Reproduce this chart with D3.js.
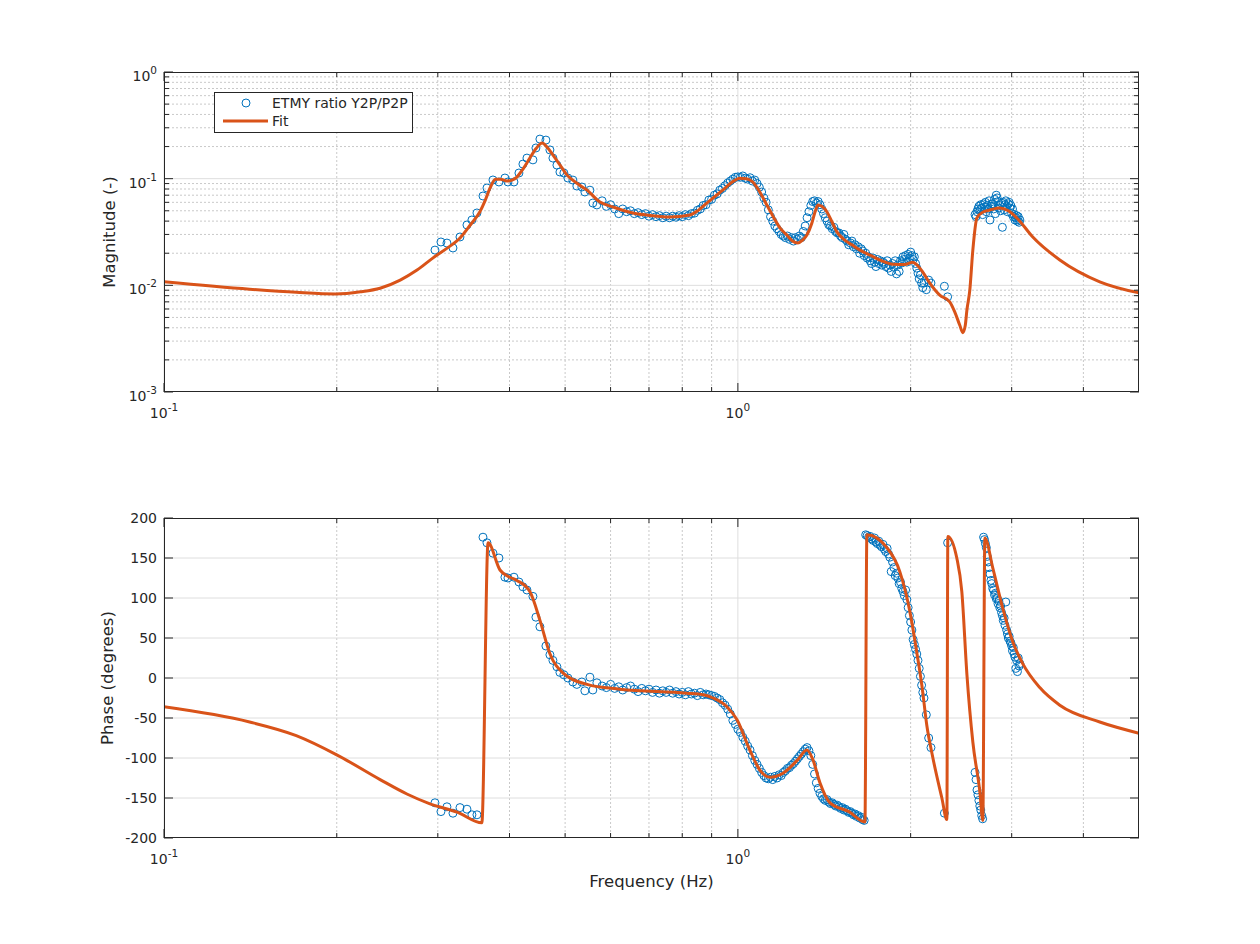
<!DOCTYPE html>
<html>
<head>
<meta charset="utf-8">
<script src="https://cdn.jsdelivr.net/npm/d3@7"></script>
<style>
body { margin: 0; background: #fff; }
text { font-family: "DejaVu Sans", sans-serif; fill: #262626; }
</style>
</head>
<body>
<script>
var measFreq = [
  0.2966,0.3038,0.3112,0.3188,0.3279,0.3372,0.3440,0.3510,0.3596,0.3654,
  0.3743,0.3834,0.3927,0.3975,0.4072,0.4154,0.4221,0.4290,0.4394,0.4447,
  0.4519,0.4629,0.4704,0.4761,0.4838,0.4897,0.4975,0.5056,0.5158,0.5241,
  0.5347,0.5412,0.5523,0.5588,0.5679,
  0.58,0.59,0.60,0.61,0.62,0.63,0.64,0.65,0.66,0.67,
  0.68,0.69,0.70,0.71,0.72,0.73,0.74,0.75,0.76,0.77,
  0.78,0.79,0.80,0.81,0.82,0.83,0.84,0.85,0.86,0.87,
  0.88,0.89,0.90,0.91,0.92,0.93,0.94,0.95,0.96,0.97,
  0.98,0.99,1.00,
  1.01,1.02,1.03,1.04,1.05,1.06,1.07,1.08,1.09,1.10,
  1.11,1.12,1.13,1.14,1.15,1.16,1.17,1.18,1.19,1.20,
  1.21,1.22,1.23,1.24,1.25,1.26,1.27,1.28,1.29,1.30,
  1.31,1.32,1.33,1.34,1.35,1.36,1.37,1.38,1.39,1.40,
  1.41,1.42,1.43,1.44,1.45,1.46,1.47,1.48,1.49,1.50,
  1.51,1.52,1.53,1.54,1.55,1.56,1.57,1.58,1.59,1.60,
  1.61,1.62,1.63,1.64,1.65,1.66,1.67,1.68,1.69,1.70,
  1.71,1.72,1.73,1.74,1.75,1.76,1.77,1.78,1.79,1.80,
  1.81,1.82,1.83,1.84,1.85,1.86,1.87,1.88,1.89,1.90,
  1.91,1.92,1.93,1.94,1.95,1.96,1.97,1.98,1.99,2.00,
  2.01,2.02,2.03,2.04,2.05,2.06,2.07,2.08,2.09,2.10,
  2.11,2.13,2.15,2.17,2.29,2.32,
  2.59,2.60,2.61,2.62,2.63,2.64,2.65,2.66,2.67,2.68,
  2.69,2.70,2.71,2.72,2.73,2.74,2.75,2.76,2.77,2.78,
  2.79,2.80,2.81,2.82,2.83,2.84,2.85,2.86,2.87,2.88,
  2.89,2.90,2.91,2.92,2.93,2.94,2.95,2.96,2.97,2.98,
  2.99,3.00,3.01,3.02,3.03,3.04,3.05,3.06,3.07,3.08,
  3.09,3.10
];
var measMag = [
  0.0214,0.0255,0.0249,0.0224,0.0284,0.0368,0.0410,0.0477,0.0688,0.0818,
  0.0972,0.0931,0.1014,0.0931,0.0931,0.113,0.137,0.156,0.150,0.194,
  0.235,0.230,0.186,0.156,0.134,0.1155,0.113,0.1014,0.097,0.0853,
  0.0835,0.075,0.078,0.0591,0.0567,
  0.062,0.055,0.057,0.052,0.047,0.052,0.049,0.050,0.047,0.048,
  0.046,0.047,0.0445,0.046,0.044,0.045,0.043,0.0445,0.043,0.0445,
  0.0435,0.045,0.044,0.046,0.045,0.047,0.0475,0.0505,0.052,0.056,
  0.057,0.063,0.064,0.070,0.072,0.078,0.081,0.086,0.091,0.095,
  0.099,0.103,0.104,
  0.103,0.106,0.101,0.099,0.102,0.095,0.097,0.090,0.083,0.075,
  0.066,0.060,0.051,0.044,0.040,0.036,0.034,0.032,0.030,0.029,
  0.028,0.029,0.027,0.028,0.026,0.028,0.027,0.029,0.028,0.032,
  0.036,0.043,0.049,0.056,0.061,0.062,0.059,0.061,0.057,0.052,
  0.047,0.043,0.040,0.037,0.036,0.034,0.035,0.032,0.031,0.031,
  0.029,0.028,0.030,0.027,0.026,0.024,0.025,0.026,0.023,0.024,
  0.022,0.023,0.020,0.022,0.021,0.019,0.020,0.018,0.0185,0.017,
  0.016,0.018,0.0165,0.015,0.0175,0.016,0.017,0.0155,0.0165,0.016,
  0.015,0.017,0.0145,0.0155,0.0135,0.016,0.0148,0.017,0.0128,0.0155,
  0.0135,0.017,0.0162,0.0185,0.0175,0.019,0.0165,0.0195,0.018,0.0205,
  0.019,0.0175,0.0185,0.016,0.0145,0.013,0.0115,0.0125,0.0105,0.0095,
  0.0105,0.0091,0.0112,0.0105,0.0098,0.0078,
  0.046,0.044,0.049,0.052,0.055,0.050,0.057,0.053,0.046,0.058,
  0.054,0.060,0.049,0.056,0.052,0.062,0.041,0.055,0.058,0.058,
  0.052,0.064,0.047,0.070,0.066,0.061,0.053,0.056,0.050,0.059,
  0.035,0.060,0.051,0.057,0.062,0.055,0.049,0.058,0.060,0.053,
  0.056,0.047,0.052,0.044,0.046,0.041,0.043,0.045,0.040,0.044,
  0.039,0.041
];
var measPhase = [
  -156,-167,-161,-169,-162,-164,-171,-171,176,169,
  156,150,126,125,126,120,114,110,102,76,
  64,40,29,22,14,7,4,0,-5,-8,
  -5,-16,1,-15,-6,
  -10,-12,-8,-13,-11,-15,-12,-10,-14,-17,
  -13,-16,-14,-18,-15,-19,-16,-18,-15,-19,
  -17,-20,-18,-21,-17,-20,-19,-22,-18,-21,
  -20,-21,-22,-23,-25,-27,-31,-34,-39,-45,
  -53,-58,-64,
  -68,-74,-79,-85,-90,-97,-103,-108,-113,-118,
  -122,-125,-126,-124,-127,-123,-125,-121,-122,-118,
  -116,-113,-112,-109,-107,-104,-101,-98,-95,-92,
  -89,-87,-91,-97,-108,-120,-131,-138,-144,-148,
  -151,-153,-152,-155,-157,-156,-158,-160,-159,-161,
  -163,-162,-165,-164,-166,-168,-167,-169,-171,-170,
  -173,-172,-175,-174,-177,-178,179,178,176,177,
  174,172,175,170,168,171,166,164,167,161,
  158,162,155,151,133,145,138,128,131,125,
  118,120,112,108,103,110,98,88,78,70,
  60,48,42,36,30,22,12,2,-9,-18,
  -25,-46,-75,-87,-169,169,
  -118,-127,-140,-146,-153,-160,-165,-172,-176,176,
  173,168,163,152,145,138,130,122,118,112,
  110,104,106,99,100,93,96,88,90,82,
  78,72,75,66,95,60,55,50,52,46,
  44,40,34,38,30,26,12,22,8,25,
  15,18
];

// fitted model
var fitMagFreq = [0.100,0.141,0.170,0.199,0.220,0.238,0.258,0.276,0.294,0.311,
  0.328,0.342,0.355,0.363,0.370,0.378,0.386,0.396,0.404,0.412,
  0.423,0.434,0.445,0.456,0.466,0.476,0.490,0.504,0.525,0.546,
  0.575,0.606,0.656,0.694,0.761,0.825,0.855,0.883,0.912,0.942,
  0.975,1.008,1.035,1.062,1.092,1.123,1.150,1.184,1.217,1.245,
  1.272,1.296,1.319,1.345,1.365,1.379,1.400,1.430,1.460,1.488,
  1.530,1.580,1.632,1.700,1.780,1.862,1.950,2.018,2.060,2.100,
  2.160,2.248,2.340,2.388,2.437,2.466,2.490,2.507,2.536,2.567,
  2.609,2.680,2.748,2.860,2.960,3.063,3.265,3.639,4.272,5.000];
var fitMag = [0.0108,0.0092,0.0086,0.0083,0.0087,0.0094,0.0112,0.0139,0.0180,0.0222,
  0.0278,0.0370,0.0487,0.063,0.0818,0.099,0.099,0.0951,0.097,0.1035,
  0.125,0.156,0.192,0.216,0.195,0.167,0.134,0.108,0.090,0.078,
  0.0604,0.0542,0.0477,0.0456,0.0437,0.0456,0.051,0.0591,0.068,0.0784,
  0.092,0.101,0.100,0.0931,0.075,0.0567,0.045,0.0345,0.0296,0.026,
  0.0249,0.0265,0.0296,0.038,0.050,0.0567,0.055,0.0487,0.039,0.0317,
  0.027,0.024,0.0214,0.0192,0.0170,0.0158,0.0157,0.0165,0.0152,0.0133,
  0.0105,0.0081,0.0070,0.0056,0.0042,0.0036,0.0042,0.0059,0.0090,0.0214,
  0.0428,0.049,0.0508,0.053,0.050,0.0428,0.0284,0.0173,0.0108,0.0085];
var fitPhaseFreq = [0.100,0.141,0.170,0.200,0.238,0.265,0.290,0.325,0.358,0.367,
  0.385,0.398,0.412,0.434,0.452,0.470,0.496,0.546,0.623,0.815,
  0.870,0.905,0.957,0.996,1.049,1.092,1.137,1.198,1.272,1.319,
  1.351,1.390,1.447,1.561,1.665,1.678,1.818,1.915,1.994,2.050,
  2.092,2.134,2.187,2.267,2.313,2.322,2.407,2.456,2.507,2.567,
  2.640,2.672,2.694,2.782,2.895,3.014,3.136,3.358,3.639,4.272,5.000];
var fitPhase = [-36,-55,-72,-96,-127,-145,-157,-168,-181,169,
  135,127,122,108,72,31,6,-8,-14,-19,
  -21,-25,-36,-52,-90,-115,-124,-119,-102,-90,
  -102,-131,-156,-167,-180,179,163,133,83,32,
  -9,-59,-100,-150,-177,177,150,108,4,-80,
  -142,-178,175,137,87,45,18,-12,-34,-55,-69];

// axes
var xDomain = [0.1, 5];
var xMajor = [0.1, 1];
var xMinor = [0.2,0.3,0.4,0.5,0.6,0.7,0.8,0.9,2,3,4];
var xExp = ["-1", "0"];
var magDomain = [0.001, 1];
var magMajor = [0.001, 0.01, 0.1, 1];
var magExp = ["-3", "-2", "-1", "0"];
var magMinor = [0.002,0.003,0.004,0.005,0.006,0.007,0.008,0.009,
  0.02,0.03,0.04,0.05,0.06,0.07,0.08,0.09,
  0.2,0.3,0.4,0.5,0.6,0.7,0.8,0.9];
var phaseDomain = [-200, 200];
var phaseTicks = [-200,-150,-100,-50,0,50,100,150,200];

var W = 1260, H = 944;
var left = 164, right = 1139;
var blue = "#0072BD", orange = "#D95319", ink = "#262626";

var svg = d3.select("body").append("svg")
  .attr("width", W)
  .attr("height", H);

var x = d3.scaleLog().domain(xDomain).range([left, right]);
var yMag = d3.scaleLog().domain(magDomain).range([392, 72]);
var yPh = d3.scaleLinear().domain(phaseDomain).range([838, 518]);

function expLabel(t, e) {
  t.append("tspan").text("10");
  t.append("tspan").attr("dy", -7).attr("font-size", 10.5).text(e);
}

function drawPanel(id, y, yMajor, yMinor, top, bottom) {
  var g = svg.append("g");

  // minor grid (dotted)
  g.selectAll(".xm").data(xMinor).enter().append("line")
    .attr("x1", d => x(d)).attr("x2", d => x(d))
    .attr("y1", top).attr("y2", bottom)
    .attr("stroke", "#c9c9c9").attr("stroke-width", 1)
    .attr("stroke-dasharray", "2,2");
  g.selectAll(".ym").data(yMinor).enter().append("line")
    .attr("x1", left).attr("x2", right)
    .attr("y1", d => y(d)).attr("y2", d => y(d))
    .attr("stroke", "#c9c9c9").attr("stroke-width", 1)
    .attr("stroke-dasharray", "2,2");
  // major grid
  g.selectAll(".xM").data(xMajor).enter().append("line")
    .attr("x1", d => x(d)).attr("x2", d => x(d))
    .attr("y1", top).attr("y2", bottom)
    .attr("stroke", "#dedede").attr("stroke-width", 1);
  g.selectAll(".yM").data(yMajor).enter().append("line")
    .attr("x1", left).attr("x2", right)
    .attr("y1", d => y(d)).attr("y2", d => y(d))
    .attr("stroke", "#dedede").attr("stroke-width", 1);

  svg.append("clipPath").attr("id", id)
    .append("rect").attr("x", left).attr("y", top)
    .attr("width", right - left).attr("height", bottom - top);
  return g;
}

function drawFrame(y, yMajor, yMinor, top, bottom) {
  var g = svg.append("g").attr("stroke", ink).attr("stroke-width", 1);
  var majL = 9, minL = 5;
  xMajor.forEach(function (d) {
    g.append("line").attr("x1", x(d)).attr("x2", x(d)).attr("y1", bottom).attr("y2", bottom - majL);
    g.append("line").attr("x1", x(d)).attr("x2", x(d)).attr("y1", top).attr("y2", top + majL);
  });
  xMinor.forEach(function (d) {
    g.append("line").attr("x1", x(d)).attr("x2", x(d)).attr("y1", bottom).attr("y2", bottom - minL);
    g.append("line").attr("x1", x(d)).attr("x2", x(d)).attr("y1", top).attr("y2", top + minL);
  });
  yMajor.forEach(function (d) {
    g.append("line").attr("x1", left).attr("x2", left + majL).attr("y1", y(d)).attr("y2", y(d));
    g.append("line").attr("x1", right).attr("x2", right - majL).attr("y1", y(d)).attr("y2", y(d));
  });
  yMinor.forEach(function (d) {
    g.append("line").attr("x1", left).attr("x2", left + minL).attr("y1", y(d)).attr("y2", y(d));
    g.append("line").attr("x1", right).attr("x2", right - minL).attr("y1", y(d)).attr("y2", y(d));
  });
  g.append("rect").attr("x", left + 0.5).attr("y", top + 0.5)
    .attr("width", right - left - 1).attr("height", bottom - top - 1)
    .attr("fill", "none");

  // x tick labels
  xMajor.forEach(function (d, i) {
    var t = svg.append("text").attr("x", x(d)).attr("y", bottom + 26)
      .attr("text-anchor", "middle").attr("font-size", 14);
    expLabel(t, xExp[i]);
  });
}

// ---------- magnitude ----------
drawPanel("clipMag", yMag, magMajor.slice(1, 3), magMinor, 72, 392);

var gMag = svg.append("g");
gMag.selectAll("circle").data(d3.zip(measFreq, measMag)).enter().append("circle")
  .attr("cx", d => x(d[0])).attr("cy", d => yMag(d[1])).attr("r", 4)
  .attr("fill", "none").attr("stroke", blue).attr("stroke-width", 1);

var magLine = d3.line().x(d => x(d[0])).y(d => yMag(d[1])).curve(d3.curveMonotoneX);
svg.append("path").datum(d3.zip(fitMagFreq, fitMag))
  .attr("clip-path", "url(#clipMag)")
  .attr("d", magLine).attr("fill", "none")
  .attr("stroke", orange).attr("stroke-width", 3)
  .attr("stroke-linejoin", "round");

drawFrame(yMag, magMajor, magMinor, 72, 392);

magMajor.forEach(function (d, i) {
  var t = svg.append("text").attr("x", 157).attr("y", yMag(d) + 9)
    .attr("text-anchor", "end").attr("font-size", 14);
  expLabel(t, magExp[i]);
});

svg.append("text").attr("transform", "translate(115,232) rotate(-90)")
  .attr("text-anchor", "middle").attr("font-size", 16.5).text("Magnitude (-)");

// legend
var lg = svg.append("g");
lg.append("rect").attr("x", 214.5).attr("y", 92.5).attr("width", 198).attr("height", 40)
  .attr("fill", "#fff").attr("stroke", ink).attr("stroke-width", 1);
lg.append("circle").attr("cx", 246).attr("cy", 103).attr("r", 4)
  .attr("fill", "none").attr("stroke", blue).attr("stroke-width", 1);
lg.append("text").attr("x", 272).attr("y", 108).attr("font-size", 14).text("ETMY ratio Y2P/P2P");
lg.append("line").attr("x1", 223).attr("x2", 268).attr("y1", 121).attr("y2", 121)
  .attr("stroke", orange).attr("stroke-width", 3);
lg.append("text").attr("x", 272).attr("y", 126).attr("font-size", 14).text("Fit");

// ---------- phase ----------
drawPanel("clipPh", yPh, phaseTicks.slice(1, 8), [], 518, 838);

var gPh = svg.append("g");
gPh.selectAll("circle").data(d3.zip(measFreq, measPhase)).enter().append("circle")
  .attr("cx", d => x(d[0])).attr("cy", d => yPh(d[1])).attr("r", 4)
  .attr("fill", "none").attr("stroke", blue).attr("stroke-width", 1);

var phLine = d3.line().x(d => x(d[0])).y(d => yPh(d[1])).curve(d3.curveMonotoneX);
svg.append("path").datum(d3.zip(fitPhaseFreq, fitPhase))
  .attr("clip-path", "url(#clipPh)")
  .attr("d", phLine).attr("fill", "none")
  .attr("stroke", orange).attr("stroke-width", 3)
  .attr("stroke-linejoin", "round");

drawFrame(yPh, phaseTicks, [], 518, 838);

phaseTicks.forEach(function (d) {
  svg.append("text").attr("x", 157).attr("y", yPh(d) + 5)
    .attr("text-anchor", "end").attr("font-size", 14).text(d);
});

svg.append("text").attr("transform", "translate(113,678) rotate(-90)")
  .attr("text-anchor", "middle").attr("font-size", 16.5).text("Phase (degrees)");

svg.append("text").attr("x", (left + right) / 2).attr("y", 887)
  .attr("text-anchor", "middle").attr("font-size", 16.5).text("Frequency (Hz)");
</script>
</body>
</html>
